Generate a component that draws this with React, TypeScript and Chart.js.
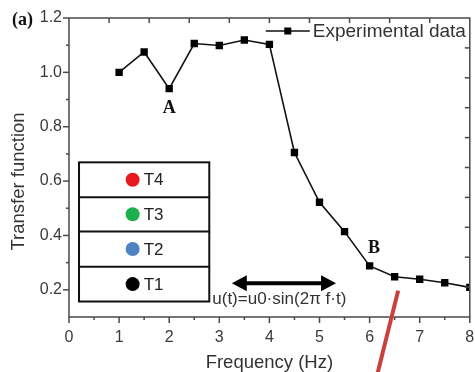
import React, { useEffect, useRef } from "react";
import { Chart, registerables } from "chart.js";

Chart.register(...registerables);

// ---- data ----
const frequencies = [1, 1.5, 2, 2.5, 3, 3.5, 4, 4.5, 5, 5.5, 6, 6.5, 7, 7.5, 8];
const transfer = [1.0, 1.075, 0.94, 1.106, 1.099, 1.119, 1.103, 0.705, 0.522, 0.414, 0.288, 0.248, 0.239, 0.226, 0.209];
const xTickValues = [0, 1, 2, 3, 4, 5, 6, 7, 8];
const yTickValues = [0.2, 0.4, 0.6, 0.8, 1.0, 1.2];
const seriesLabel = "Experimental data";
const insetLabels = ["T4", "T3", "T2", "T1"];
const insetColors = ["#e8191c", "#1daf4e", "#4f82c3", "#000000"];
const formulaText = "u(t)=u0·sin(2π f·t)";
const xTitle = "Frequency (Hz)";
const yTitle = "Transfer function";
const panelLabel = "(a)";
const pointLabelA = "A";
const pointLabelB = "B";

const SANS = "'Liberation Sans', Arial, sans-serif";
const SERIF = "'Liberation Serif', 'Times New Roman', serif";

const decorPlugin = {
  id: "decor",
  afterDraw(chart: any) {
    const { ctx, chartArea: ca } = chart;
    const xs = chart.scales.x;
    const ys = chart.scales.y;
    const px = (v: number) => xs.getPixelForValue(v);
    const py = (v: number) => ys.getPixelForValue(v);
    const line = (x0: number, y0: number, x1: number, y1: number) => {
      ctx.beginPath();
      ctx.moveTo(x0, y0);
      ctx.lineTo(x1, y1);
      ctx.stroke();
    };
    ctx.save();

    // frame
    ctx.strokeStyle = "#4a4a4a";
    ctx.lineWidth = 1.5;
    ctx.strokeRect(ca.left, ca.top, ca.right - ca.left, ca.bottom - ca.top);

    // bottom ticks (outward)
    for (let k = 0; k <= 16; k++) {
      const v = k / 2;
      const major = k % 2 === 0;
      line(px(v), ca.bottom, px(v), ca.bottom + (major ? 6 : 3));
    }
    // left ticks (outward)
    for (let k = 2; k <= 12; k++) {
      const v = k / 10;
      const major = k % 2 === 0;
      line(ca.left, py(v), ca.left - (major ? 6 : 3), py(v));
    }
    // top ticks (inward)
    for (let k = 1; k <= 9; k++) {
      const v = k * 0.8;
      line(px(v), ca.top, px(v), ca.top + 5);
    }
    // right ticks (inward)
    for (let k = 1; k <= 9; k++) {
      const v = 1.2 - k * 0.11;
      line(ca.right, py(v), ca.right - 5, py(v));
    }

    // y axis title
    ctx.save();
    ctx.translate(19, (ca.top + ca.bottom) / 2 + 14);
    ctx.rotate(-Math.PI / 2);
    ctx.font = `18.5px ${SANS}`;
    ctx.fillStyle = "#333";
    ctx.textAlign = "center";
    ctx.textBaseline = "middle";
    ctx.fillText(yTitle, 0, 0);
    ctx.restore();

    // inset box
    const bx0 = px(0.2);
    const bx1 = px(2.8);
    const rows = [0.669, 0.541, 0.415, 0.285, 0.157];
    ctx.fillStyle = "#ffffff";
    ctx.fillRect(bx0, py(rows[0]), bx1 - bx0, py(rows[4]) - py(rows[0]));
    ctx.strokeStyle = "#111";
    ctx.lineWidth = 2;
    ctx.strokeRect(bx0, py(rows[0]), bx1 - bx0, py(rows[4]) - py(rows[0]));
    for (let i = 1; i < 4; i++) line(bx0, py(rows[i]), bx1, py(rows[i]));
    ctx.font = `17px ${SANS}`;
    ctx.textBaseline = "middle";
    ctx.textAlign = "left";
    for (let i = 0; i < 4; i++) {
      const cy = (py(rows[i]) + py(rows[i + 1])) / 2;
      const cx = px(1.27);
      ctx.fillStyle = insetColors[i];
      ctx.beginPath();
      ctx.arc(cx, cy, 7, 0, Math.PI * 2);
      ctx.fill();
      ctx.fillStyle = "#222";
      ctx.fillText(insetLabels[i], cx + 11, cy + 1);
    }

    // double arrow
    const ax0 = px(3.25);
    const ax1 = px(5.33);
    const ay = py(0.224);
    ctx.strokeStyle = "#000";
    ctx.fillStyle = "#000";
    ctx.lineWidth = 4;
    line(ax0 + 10, ay, ax1 - 10, ay);
    ctx.beginPath();
    ctx.moveTo(ax0, ay);
    ctx.lineTo(ax0 + 15, ay - 8);
    ctx.lineTo(ax0 + 15, ay + 8);
    ctx.closePath();
    ctx.fill();
    ctx.beginPath();
    ctx.moveTo(ax1, ay);
    ctx.lineTo(ax1 - 15, ay - 8);
    ctx.lineTo(ax1 - 15, ay + 8);
    ctx.closePath();
    ctx.fill();

    // formula
    ctx.font = `17px ${SANS}`;
    ctx.fillStyle = "#333";
    ctx.textAlign = "left";
    ctx.textBaseline = "middle";
    ctx.fillText(formulaText, px(2.86), py(0.164));

    // point labels
    ctx.font = `bold 18px ${SERIF}`;
    ctx.fillStyle = "#111";
    ctx.textAlign = "center";
    ctx.fillText(pointLabelA, px(2.0), py(0.866));
    ctx.fillText(pointLabelB, px(6.09), py(0.353));

    // panel label
    ctx.textAlign = "left";
    ctx.fillText(panelLabel, ca.left - 57, ca.top + 2);

    // legend
    const ly = ca.top + 13;
    ctx.strokeStyle = "#111";
    ctx.lineWidth = 1.6;
    line(ca.right - 204, ly, ca.right - 160, ly);
    ctx.fillStyle = "#000";
    ctx.fillRect(ca.right - 182 - 3.5, ly - 3.5, 7, 7);
    ctx.font = `19px ${SANS}`;
    ctx.fillStyle = "#333";
    ctx.textAlign = "left";
    ctx.fillText(seriesLabel, ca.right - 157, ly + 1);

    // red pointer line
    ctx.strokeStyle = "#c9403d";
    ctx.lineWidth = 4;
    line(px(6.57), py(0.197), px(6.16), py(-0.106));

    ctx.restore();
  },
};

export default function App() {
  const ref = useRef<HTMLCanvasElement | null>(null);
  useEffect(() => {
    if (!ref.current) return;
    const chart = new Chart(ref.current, {
      type: "line",
      data: {
        datasets: [
          {
            label: seriesLabel,
            data: frequencies.map((f, i) => ({ x: f, y: transfer[i] })),
            borderColor: "#111",
            backgroundColor: "#000",
            borderWidth: 1.6,
            pointStyle: "rect",
            pointRadius: 5.2,
            pointBorderWidth: 0,
            tension: 0,
          },
        ],
      },
      options: {
        animation: false,
        responsive: true,
        maintainAspectRatio: false,
        layout: { padding: { top: 18, right: 3, left: 0, bottom: 0 } },
        plugins: { legend: { display: false }, tooltip: { enabled: false } },
        scales: {
          x: {
            type: "linear",
            min: 0,
            max: 8,
            grid: { display: false, drawTicks: false },
            border: { display: false },
            afterBuildTicks: (s: any) => {
              s.ticks = xTickValues.map((v) => ({ value: v }));
            },
            afterFit: (s: any) => {
              s.height = 55;
              s.paddingLeft = 0;
              s.paddingRight = 0;
            },
            ticks: {
              padding: 11,
              color: "#3a3a3a",
              font: { family: SANS, size: 16 },
              callback: (v: any) => String(v),
              maxRotation: 0,
            },
            title: {
              display: true,
              text: xTitle,
              color: "#333",
              font: { family: SANS, size: 18.5, lineHeight: 1 },
              padding: 0,
            },
          },
          y: {
            type: "linear",
            min: 0.1,
            max: 1.2,
            grid: { display: false, drawTicks: false },
            border: { display: false },
            afterBuildTicks: (s: any) => {
              s.ticks = yTickValues.map((v) => ({ value: v }));
            },
            afterFit: (s: any) => {
              s.width = 69;
              s.paddingTop = 0;
              s.paddingBottom = 0;
            },
            ticks: {
              padding: 7,
              color: "#3a3a3a",
              font: { family: SANS, size: 16 },
              callback: (v: any) => Number(v).toFixed(1),
            },
            title: { display: false, text: yTitle },
          },
        },
      },
      plugins: [decorPlugin],
    });
    return () => chart.destroy();
  }, []);
  return (
    <div style={{ position: "fixed", left: 0, top: 0, width: 475, height: 372, background: "#fff" }}>
      <canvas ref={ref} />
    </div>
  );
}
